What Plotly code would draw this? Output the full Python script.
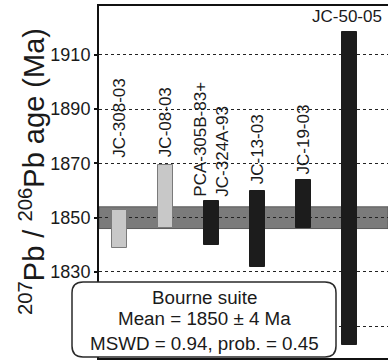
import plotly.graph_objects as go

# ---- data ----
samples = ["JC-308-03", "JC-08-03", "PCA-305B-83+<br>JC-324A-93", "JC-13-03", "JC-19-03", "JC-50-05"]
age_low = [1839, 1846.3, 1840, 1832, 1846.3, 1803]
age_high = [1853, 1869.5, 1856, 1860, 1864, 1918.5]
label_base = [1871.4, 1871.4, 1857, 1861.4, 1865, 1920]
group = ["light", "light", "dark", "dark", "dark", "dark"]
mean_age = 1850
mean_err = 4
tick_vals = [1810, 1830, 1850, 1870, 1890, 1910]
tick_text = [" ", "1830", "1850", "1870", "1890", "1910"]
y_title = "<sup>207</sup>Pb / <sup>206</sup>Pb age (Ma)"
box_lines = ["Bourne suite", "Mean = 1850 ± 4 Ma", "MSWD = 0.94, prob. = 0.45"]

FONT = "Liberation Sans"
INK = "#1a1a1a"
W, H = 388, 361
ML, MR, MT, MB = 99, 0, 6, 3
PW, PH = W - ML - MR, H - MT - MB

fill = {"light": "#c8c8c8", "dark": "#1c1c1c"}
edge = {"light": "#7a7a7a", "dark": "#1c1c1c"}


def px(x):
    return (x - ML) / PW


def py(y):
    return (H - MB - y) / PH


xs = list(range(1, len(samples) + 1))
fig = go.Figure()
fig.add_trace(go.Bar(
    x=xs,
    y=[h - l for l, h in zip(age_low, age_high)],
    base=age_low,
    width=0.315,
    marker=dict(color=[fill[g] for g in group],
                line=dict(color=[edge[g] for g in group], width=1)),
    hoverinfo="skip",
    showlegend=False,
))

# mean band
fig.add_shape(type="rect", xref="paper", x0=0, x1=1, yref="y",
              y0=mean_age - mean_err, y1=mean_age + mean_err,
              fillcolor="#7b7b7b", line=dict(color="#5a5a5a", width=1), layer="below")

# sample labels
for i, (s, b) in enumerate(zip(samples, label_base)):
    if i == len(samples) - 1:
        fig.add_annotation(x=xs[i] - 0.06, y=b, text=s, showarrow=False,
                           xanchor="center", yanchor="bottom",
                           font=dict(family=FONT, size=17, color=INK))
    else:
        fig.add_annotation(x=xs[i], y=b, text=s, showarrow=False, textangle=-90,
                           xanchor="center", yanchor="bottom", align="left",
                           font=dict(family=FONT, size=17, color=INK))

# y-axis title
fig.add_annotation(xref="paper", yref="paper", x=px(32), y=py(172), text=y_title,
                   showarrow=False, textangle=-90, xanchor="center", yanchor="middle",
                   font=dict(family=FONT, size=29, color=INK))

# rounded info box
bx0, bx1, by0, by1, r = 72, 336, 282, 357, 11
path = (f"M {px(bx0 + r)},{py(by0)} L {px(bx1 - r)},{py(by0)} "
        f"Q {px(bx1)},{py(by0)} {px(bx1)},{py(by0 + r)} "
        f"L {px(bx1)},{py(by1 - r)} Q {px(bx1)},{py(by1)} {px(bx1 - r)},{py(by1)} "
        f"L {px(bx0 + r)},{py(by1)} Q {px(bx0)},{py(by1)} {px(bx0)},{py(by1 - r)} "
        f"L {px(bx0)},{py(by0 + r)} Q {px(bx0)},{py(by0)} {px(bx0 + r)},{py(by0)} Z")
fig.add_shape(type="path", xref="paper", yref="paper", path=path,
              fillcolor="white", line=dict(color="#2a2a2a", width=1.5), layer="above")

cx = px((bx0 + bx1) / 2)
for t, yy in zip(box_lines, [297, 318, 343]):
    fig.add_annotation(xref="paper", yref="paper", x=cx, y=py(yy), text=t,
                       showarrow=False, xanchor="center", yanchor="middle",
                       font=dict(family=FONT, size=18.8, color=INK))

fig.update_xaxes(range=[0.554, 0.554 + PW / 46.0], showticklabels=False, ticks="",
                 showgrid=False, zeroline=False, showline=True, mirror=True,
                 linecolor="#111111", linewidth=2)
fig.update_yaxes(range=[1798.3, 1928], tickvals=tick_vals, ticktext=tick_text,
                 ticks="outside", ticklen=3, tickwidth=1.5, tickcolor="#111111",
                 tickfont=dict(family=FONT, size=18, color=INK),
                 showgrid=True, gridcolor="#222222", gridwidth=1, griddash="dot",
                 zeroline=False, showline=True, mirror=False,
                 linecolor="#111111", linewidth=2, automargin=False)

fig.update_layout(width=W, height=H,
                  margin=dict(l=ML, r=MR, t=MT, b=MB, autoexpand=False),
                  paper_bgcolor="white", plot_bgcolor="white", bargap=0)

fig.write_html("out.html", config={"displayModeBar": False},
               post_script="document.body.style.margin='0';")
